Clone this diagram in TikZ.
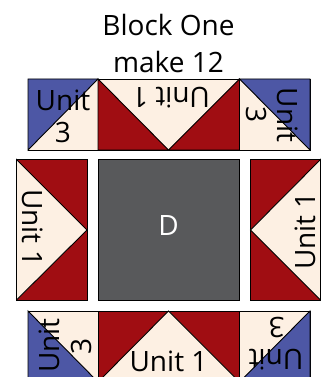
\documentclass[tikz,border=0pt]{standalone}
\usepackage{fontspec}
\setmainfont{Open Sans}
\definecolor{quiltred}{HTML}{A00D12}
\definecolor{quiltcream}{HTML}{FDF0E3}
\definecolor{quiltblue}{HTML}{4D57A5}
\definecolor{quiltgray}{HTML}{58595B}
\tikzset{
  patch/.style={draw=black, line width=0.9pt, line join=miter},
  redpatch/.style={patch, fill=quiltred},
  creampatch/.style={patch, fill=quiltcream},
  bluepatch/.style={patch, fill=quiltblue},
  unitlabel/.style={inner sep=0pt, font=\fontsize{28}{34}\selectfont},
  titlelabel/.style={inner sep=0pt, font=\fontsize{28}{34}\selectfont},
}
\begin{document}
\begin{tikzpicture}[x=1pt, y=1pt]
  \useasboundingbox (0,0) rectangle (323,377);
  \clip (0,0) rectangle (323,377);

  \node[titlelabel] (title1) at (168.5,352) {Block One};
  \node[titlelabel] (title2) at (168.5,315) {make 12};

  % top row
  \draw[creampatch] (28,298) rectangle (98,227);
  \draw[bluepatch]  (28,298) -- (98,298) -- (28,227) -- cycle;
  \draw[creampatch] (98,298) rectangle (239.5,227);
  \draw[redpatch]   (98,298) -- (168.5,227) -- (98,227) -- cycle;
  \draw[redpatch]   (239.5,298) -- (168.5,227) -- (239.5,227) -- cycle;
  \draw[creampatch] (239.5,298) rectangle (310,227);
  \draw[bluepatch]  (239.5,298) -- (310,298) -- (310,227) -- cycle;

  \node[unitlabel] (unitA) at (63,277) {Unit};
  \node[unitlabel] (threeA) at (63,244) {3};
  \node[unitlabel, rotate=180] (unitB) at (171,279) {Unit 1};
  \node[unitlabel, rotate=-90] (unitC) at (288,262) {Unit};
  \node[unitlabel, rotate=-90] (threeC) at (256,262) {3};

  % middle row
  \draw[redpatch]   (16.5,217.5) rectangle (87,77);
  \draw[creampatch] (16.5,217.5) -- (87,147) -- (16.5,77) -- cycle;
  \draw[patch, fill=quiltgray] (98,217.5) rectangle (239.5,77);
  \draw[redpatch]   (250.5,217.5) rectangle (320.5,77);
  \draw[creampatch] (320.5,217.5) -- (250.5,147) -- (320.5,77) -- cycle;

  \node[unitlabel, rotate=-90] (unitD) at (33,149) {Unit 1};
  \node[unitlabel, text=white] (blockD) at (168.5,151) {D};
  \node[unitlabel, rotate=90] (unitE) at (305,146) {Unit 1};

  % bottom row
  \draw[creampatch] (28,66) rectangle (98,-5);
  \draw[bluepatch]  (28,66) -- (98,-5) -- (28,-5) -- cycle;
  \draw[redpatch]   (98,66) rectangle (239.5,-5);
  \draw[creampatch] (168.5,66) -- (98,-5) -- (239.5,-5) -- cycle;
  \draw[creampatch] (239.5,66) rectangle (310,-5);
  \draw[bluepatch]  (310,66) -- (310,-5) -- (239.5,-5) -- cycle;

  \node[unitlabel, rotate=90] (unitF) at (49,31.5) {Unit};
  \node[unitlabel, rotate=90] (threeF) at (81,31) {3};
  \node[unitlabel] (unitG) at (168.5,15.5) {Unit 1};
  \node[unitlabel, rotate=180] (unitH) at (276,17) {Unit};
  \node[unitlabel, rotate=180] (threeH) at (276.5,49) {3};
\end{tikzpicture}
\end{document}
